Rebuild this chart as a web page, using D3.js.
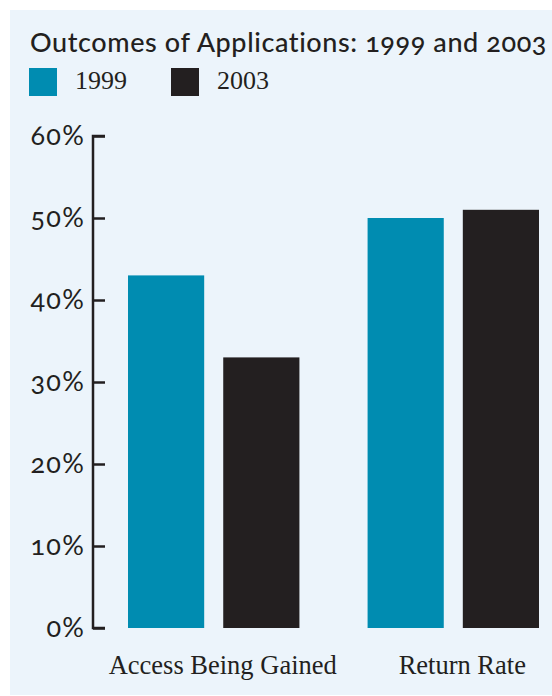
<!DOCTYPE html>
<html><head><meta charset="utf-8">
<script src="https://cdn.jsdelivr.net/npm/d3@7"></script>
<style>body{margin:0;background:#fff}svg{display:block}</style>
</head><body>
<script>
const categories = ["Access Being Gained", "Return Rate"];
const seriesNames = ["1999", "2003"];
const values1999 = [43, 50];
const values2003 = [33, 51];
const tickValues = [0, 10, 20, 30, 40, 50, 60];
const title = "Outcomes of Applications: 1999 and 2003";
const colors = ["#008cb1", "#231f20"];

const W = 552, H = 696;
const svg = d3.select("body").append("svg").attr("width", W).attr("height", H);
svg.append("rect").attr("x", 10).attr("y", 10).attr("width", W - 10).attr("height", H - 11).attr("fill", "#ecf4fb");

svg.append("text").attr("x", 30).attr("y", 52).text(title)
  .attr("font-family", "Lato").attr("font-weight", 500).attr("font-size", 27)
  .attr("letter-spacing", 0.6)
  .style("font-variant-numeric", "oldstyle-nums").attr("fill", "#231f20");

// legend
const leg = svg.append("g");
seriesNames.forEach((s, i) => {
  const lx = 29 + i * 142;
  leg.append("rect").attr("x", lx).attr("y", 68).attr("width", 28).attr("height", 28).attr("fill", colors[i]);
  leg.append("text").attr("x", lx + 46).attr("y", 89).text(s)
    .attr("font-family", "Liberation Serif").attr("font-size", 26).attr("fill", "#231f20");
});

const y = d3.scaleLinear().domain([0, 60]).range([628, 136]);
const x0 = d3.scaleBand().domain(categories).range([128, 539]).paddingInner(0.2845).paddingOuter(0);
const x1 = d3.scaleBand().domain(seriesNames).range([0, x0.bandwidth()]).paddingInner(0.2);

const data = categories.map((c, i) => ({cat: c, vals: [values1999[i], values2003[i]]}));
const g = svg.append("g");
data.forEach(d => {
  d.vals.forEach((v, j) => {
    g.append("rect").attr("x", x0(d.cat) + x1(seriesNames[j])).attr("width", x1.bandwidth())
      .attr("y", y(v)).attr("height", y(0) - y(v)).attr("fill", colors[j]);
  });
});

// axis
const axis = d3.axisRight(y).tickValues(tickValues).tickSize(12).tickFormat(d => d + "%");
const ag = svg.append("g").attr("transform", "translate(93,0)").call(axis);
ag.select(".domain").attr("d", `M12,${y(60)}H0V${y(0)}H12`).attr("stroke", "#231f20").attr("stroke-width", 2.5).attr("fill", "none");
ag.selectAll(".tick line").attr("stroke", "#231f20").attr("stroke-width", 2.5);
ag.selectAll(".tick text").attr("x", -8).attr("text-anchor", "end").attr("dy", "0.3em")
  .attr("font-family", "Lato").attr("font-size", 27).attr("letter-spacing", 1.2).attr("fill", "#231f20")
  .style("font-variant-numeric", "oldstyle-nums");

// category labels
svg.append("g").selectAll("text").data(categories).join("text")
  .attr("x", d => x0(d) + x0.bandwidth() / 2 + 9).attr("y", 674).attr("text-anchor", "middle")
  .text(d => d).attr("font-family", "Liberation Serif").attr("font-size", 26.5).attr("fill", "#231f20");
</script>
</body></html>
